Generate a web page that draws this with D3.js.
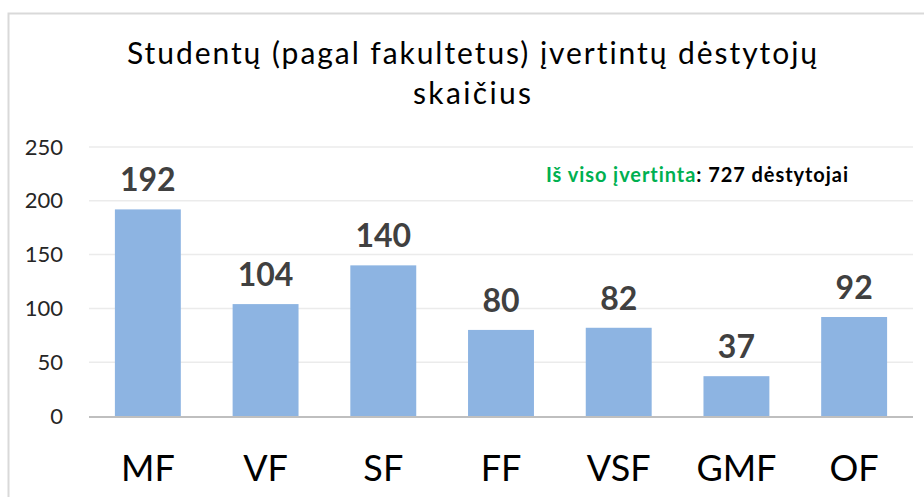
<!DOCTYPE html>
<html>
<head>
<meta charset="utf-8">
<script src="https://cdn.jsdelivr.net/npm/d3@7"></script>
<style>
  body { margin: 0; background: #fff; }
  svg { display: block; }
  text { font-variant-ligatures: none; }
</style>
</head>
<body>
<script>
// Faculties and the number of rated lecturers
var faculties = ["MF", "VF", "SF", "FF", "VSF", "GMF", "OF"];
var counts = [192, 104, 140, 80, 82, 37, 92];
var yTicks = [0, 50, 100, 150, 200, 250];
var titleLines = ["Studentų (pagal fakultetus) įvertintų dėstytojų", "skaičius"];
var noteGreen = "Iš viso įvertinta";
var noteBlack = ": 727 dėstytojai";

var width = 924, height = 497;
var plot = {left: 89, right: 913, top: 147, bottom: 416};
var font = "Lato, 'Open Sans', sans-serif";

var svg = d3.select("body").append("svg")
  .attr("width", width)
  .attr("height", height);

// chart frame
svg.append("rect")
  .attr("x", 8.5).attr("y", 13.5)
  .attr("width", 940).attr("height", 500)
  .attr("fill", "#fff")
  .attr("stroke", "#d9d9d9")
  .attr("stroke-width", 2);

var x = d3.scaleBand()
  .domain(faculties)
  .range([plot.left, plot.right])
  .paddingInner(0.44)
  .paddingOuter(0.22);

var y = d3.scaleLinear()
  .domain([0, 250])
  .range([plot.bottom, plot.top]);

// title
svg.append("text")
  .attr("x", 472).attr("y", 64)
  .attr("text-anchor", "middle")
  .attr("font-family", font)
  .attr("font-size", 30)
  .attr("fill", "#000")
  .attr("textLength", 690)
  .attr("lengthAdjust", "spacing")
  .text(titleLines[0]);
svg.append("text")
  .attr("x", 472).attr("y", 104)
  .attr("text-anchor", "middle")
  .attr("font-family", font)
  .attr("font-size", 30)
  .attr("fill", "#000")
  .attr("textLength", 118)
  .attr("lengthAdjust", "spacing")
  .text(titleLines[1]);

// gridlines
svg.append("g")
  .selectAll("line")
  .data(yTicks.slice(1))
  .enter().append("line")
  .attr("x1", plot.left).attr("x2", plot.right)
  .attr("y1", function(d) { return y(d); })
  .attr("y2", function(d) { return y(d); })
  .attr("stroke", "#ebebeb")
  .attr("stroke-width", 1.5);

// y axis labels
var yAxis = svg.append("g")
  .attr("transform", "translate(" + (plot.left - 26) + ",0)")
  .call(d3.axisLeft(y).tickValues(yTicks).tickSize(0).tickPadding(0));
yAxis.select(".domain").remove();
yAxis.selectAll("text")
  .attr("font-family", font)
  .attr("font-size", 22)
  .attr("fill", "#262626");

// bars
svg.append("g")
  .selectAll("rect")
  .data(counts)
  .enter().append("rect")
  .attr("x", function(d, i) { return x(faculties[i]); })
  .attr("y", function(d) { return y(d); })
  .attr("width", x.bandwidth())
  .attr("height", function(d) { return y(0) - y(d); })
  .attr("fill", "#8db4e2");

// baseline
svg.append("line")
  .attr("x1", plot.left).attr("x2", plot.right)
  .attr("y1", y(0) + 1).attr("y2", y(0) + 1)
  .attr("stroke", "#bfbfbf")
  .attr("stroke-width", 2);

// value labels
svg.append("g")
  .selectAll("text")
  .data(counts)
  .enter().append("text")
  .attr("x", function(d, i) { return x(faculties[i]) + x.bandwidth() / 2; })
  .attr("y", function(d) { return y(d) - 18; })
  .attr("text-anchor", "middle")
  .attr("font-family", font)
  .attr("font-weight", "bold")
  .attr("font-size", 32)
  .attr("fill", "#404040")
  .text(function(d) { return d; });

// category labels
var xAxis = svg.append("g")
  .attr("transform", "translate(0," + plot.bottom + ")")
  .call(d3.axisBottom(x).tickSize(0).tickPadding(0));
xAxis.select(".domain").remove();
xAxis.selectAll("text")
  .attr("dy", null)
  .attr("y", 65)
  .attr("font-family", font)
  .attr("font-size", 36)
  .attr("fill", "#000");

// total note
var note = svg.append("text")
  .attr("x", 546).attr("y", 182)
  .attr("font-family", font)
  .attr("font-weight", "bold")
  .attr("font-size", 20)
  .attr("textLength", 302)
  .attr("lengthAdjust", "spacing");
note.append("tspan").attr("fill", "#00b050").text(noteGreen);
note.append("tspan").attr("fill", "#000").text(noteBlack);
</script>
</body>
</html>
